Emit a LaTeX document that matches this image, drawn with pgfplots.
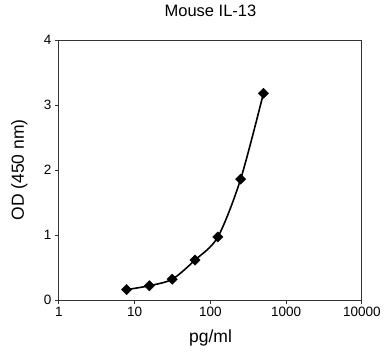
\documentclass[border=0pt]{standalone}
\usepackage{fontspec}
\setmainfont{Liberation Sans}
\usepackage{pgfplots}
\pgfplotsset{compat=1.18}
\begin{document}
\begin{tikzpicture}
\path[use as bounding box] (-59pt,-54pt) rectangle (325pt,300pt);
\begin{axis}[
  at={(0,0)}, anchor=origin,
  scale only axis, width=303pt, height=260pt,
  xmode=log, xmin=1, xmax=10000,
  ymin=0, ymax=4, ytick={0,1,2,3,4},
  xtick={1,10,100,1000,10000},
  xticklabels={1,10,100,1000,10000},
  log basis x=10,
  minor tick num=0, minor x tick style={draw=none},
  tick align=outside, tick pos=left,
  major tick length=4pt,
  axis line style={line width=1pt, black!80},
  tick style={line width=1pt, black!80},
  ticklabel style={font=\fontsize{13.5}{15}\selectfont},
  /pgf/number format/assume math mode=true,
  title={Mouse IL-13},
  title style={font=\fontsize{16.5}{18}\selectfont, at={(axis description cs:0.5,1)}, anchor=south, yshift=14pt},
  xlabel={pg/ml},
  ylabel={OD (450 nm)},
  label style={font=\fontsize{17.5}{19}\selectfont},
  xlabel style={at={(axis description cs:0.5,0)}, anchor=north, yshift=-26pt},
  ylabel style={at={(axis description cs:0,0.5)}, anchor=south, yshift=28pt},
]
\addplot[black, line width=1.6pt, smooth, tension=0.5, mark=square*, mark size=3.6pt, mark options={rotate=45, fill=black, line width=0.5pt}]
coordinates {
(7.8,0.16) (15.6,0.22) (31.25,0.32) (62.5,0.615) (125,0.97) (250,1.86) (500,3.18)
};
\end{axis}
\end{tikzpicture}
\end{document}
